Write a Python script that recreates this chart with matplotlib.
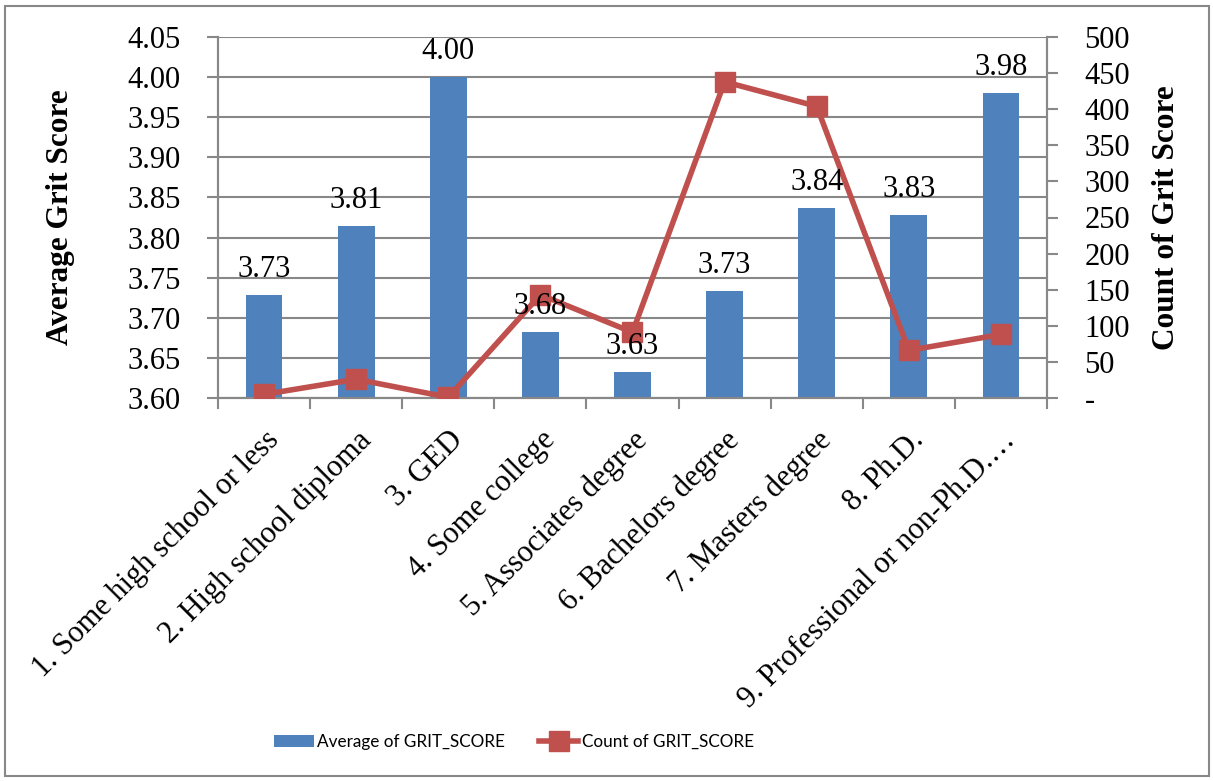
import matplotlib
matplotlib.use("Agg")
import matplotlib.pyplot as plt
from matplotlib.patches import Rectangle
from matplotlib.ticker import FuncFormatter, MultipleLocator
import numpy as np

# data
categories = ["1. Some high school or less", "2. High school diploma", "3. GED",
              "4. Some college", "5. Associates degree", "6. Bachelors degree",
              "7. Masters degree", "8. Ph.D.", "9. Professional or non-Ph.D.\u2026"]
avg_grit = [3.728, 3.814, 4.000, 3.682, 3.632, 3.733, 3.837, 3.828, 3.980]
count_grit = [5, 26, 1, 143, 91, 438, 404, 66, 88]

blue = "#4F81BD"
red = "#C0504D"
grid_col = "#888888"
serif = "Liberation Serif"
fs = 22

plt.rcParams["font.family"] = serif

fig = plt.figure(figsize=(12.13, 7.81), dpi=100)
ax1 = fig.add_axes([218/1213, 1-398/781, (1047-218)/1213, (398-37)/781])
ax2 = ax1.twinx()

x = np.arange(len(categories))
bars = ax1.bar(x, avg_grit, width=0.4, color=blue, label="Average of GRIT_SCORE", zorder=2)
ax1.set_ylim(3.60, 4.05)
ax1.set_xlim(-0.5, len(categories)-0.5)
ax1.yaxis.set_major_locator(MultipleLocator(0.05))
ax1.yaxis.set_major_formatter(FuncFormatter(lambda v, p: f"{v:.2f}"))
ax1.grid(axis="y", color=grid_col, lw=1.5)
ax1.set_axisbelow(True)

line, = ax2.plot(x, count_grit, color=red, lw=4, marker="s", markersize=15,
                 label="Count of GRIT_SCORE", zorder=3)
ax2.set_ylim(0, 500)
ax2.yaxis.set_major_locator(MultipleLocator(50))
ax2.yaxis.set_major_formatter(FuncFormatter(lambda v, p: "-" if v == 0 else f"{v:.0f}"))

# data labels drawn above the line
for xi, v in zip(x, avg_grit):
    ax2.annotate(f"{v:.2f}", xy=(xi, v), xycoords=ax1.transData,
                 xytext=(0, 8), textcoords="offset points", ha="center", va="bottom",
                 fontsize=fs, zorder=5)

ax1.set_xticks(x)
ax1.set_xticklabels(categories, rotation=45, ha="right", va="top",
                    rotation_mode="anchor", fontsize=fs)
ax1.set_xticks(np.arange(-0.5, len(categories)), minor=True)
ax1.tick_params(axis="x", which="major", length=0, pad=20)
ax1.tick_params(axis="x", which="minor", length=8, width=1.5, color=grid_col)
ax1.tick_params(axis="y", length=8, width=1.5, color=grid_col, labelsize=fs, pad=19)
ax2.tick_params(axis="y", length=8, width=1.5, color=grid_col, labelsize=fs, pad=19)

for a in (ax1, ax2):
    for s in a.spines.values():
        s.set_color(grid_col)
        s.set_linewidth(1.5)
    a.spines["top"].set_visible(False)

ax1.set_ylabel("Average Grit Score", fontsize=22.5, fontweight="bold")
ax1.yaxis.set_label_coords(-0.1725, 0.5)
ax2.set_ylabel("Count of Grit Score", fontsize=22.5, fontweight="bold", rotation=90)
ax2.yaxis.set_label_coords(1.1267, 0.5)

fig.legend(handles=[bars, line], loc="center", bbox_to_anchor=(514/1213, 1-742/781),
           ncol=2, frameon=False, prop={"family": "Lato", "size": 12.3},
           handlelength=2.3, handletextpad=0.2, columnspacing=2.0)

fig.patches.append(Rectangle((5/1213, 1-776/781), 1204/1213, 770/781,
                             transform=fig.transFigure, fill=False,
                             edgecolor=grid_col, lw=1.5))

fig.savefig("out.png", dpi=100, facecolor="white")
